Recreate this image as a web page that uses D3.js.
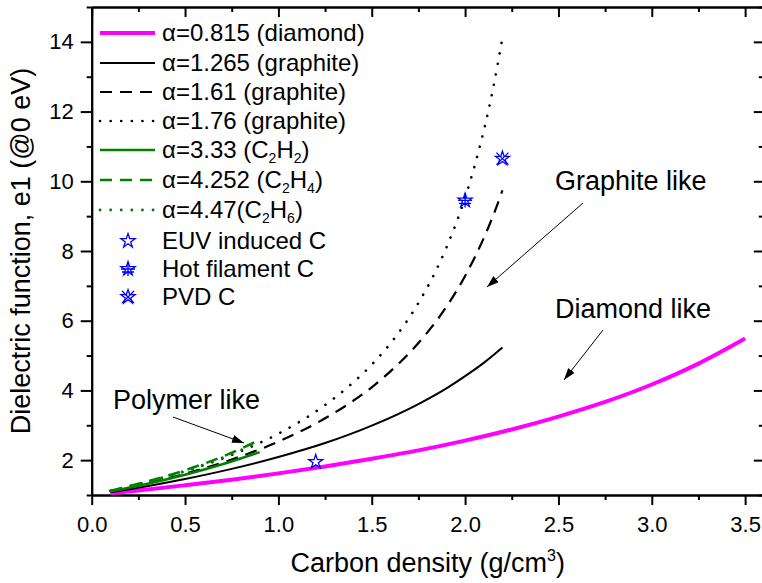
<!DOCTYPE html>
<html>
<head>
<meta charset="utf-8">
<script src="https://cdn.jsdelivr.net/npm/d3@7"></script>
<style>
  body { margin: 0; background: #fff; }
  svg { font-family: "Liberation Sans", Arial, sans-serif; }
</style>
</head>
<body>
<div id="chart"></div>
<script>
// values: carbon density (g/cm3) -> e1 at 0 eV
var diamondX = [0.1, 0.25, 0.5, 0.75, 1.0, 1.25, 1.5, 1.75, 2.0, 2.25, 2.5, 2.75, 3.0, 3.25, 3.5];
var diamondY = [1.05, 1.13, 1.28, 1.44, 1.62, 1.82, 2.04, 2.28, 2.56, 2.88, 3.25, 3.67, 4.17, 4.77, 5.49];

var graphite1X = [0.1, 0.25, 0.5, 0.75, 1.0, 1.25, 1.5, 1.75, 1.9, 2.0, 2.1, 2.2];
var graphite1Y = [1.08, 1.21, 1.46, 1.75, 2.09, 2.49, 2.99, 3.61, 4.06, 4.41, 4.79, 5.23];

var graphiteX = [0.1, 0.25, 0.5, 0.75, 1.0, 1.25, 1.375, 1.5, 1.625, 1.75, 1.9, 2.0, 2.05, 2.1, 2.15, 2.2];
var graphite2Y = [1.11, 1.28, 1.61, 2.02, 2.53, 3.20, 3.61, 4.09, 4.67, 5.36, 6.40, 7.28, 7.80, 8.37, 9.01, 9.74];
var graphite3Y = [1.12, 1.31, 1.68, 2.15, 2.76, 3.58, 4.11, 4.74, 5.52, 6.51, 8.10, 9.53, 10.42, 11.45, 12.66, 14.12];

var polymerX = [0.1, 0.3, 0.5, 0.7, 0.9];
var c2h2Y = [1.10, 1.32, 1.58, 1.88, 2.23];
var c2h4Y = [1.12, 1.39, 1.71, 2.10, 2.58];
var c2h6Y = [1.12, 1.38, 1.69, 2.07, 2.53];

var sampleNames = ["EUV induced C", "Hot filament C", "PVD C"];
var sampleX = [1.2, 2.0, 2.2];
var sampleY = [1.95, 9.45, 10.65];

var curveNames = ["α=0.815 (diamond)", "α=1.265 (graphite)", "α=1.61 (graphite)", "α=1.76 (graphite)",
                  "α=3.33 (C_2H_2)", "α=4.252 (C_2H_4)", "α=4.47(C_2H_6)"];

var xMajor = [0, 0.5, 1.0, 1.5, 2.0, 2.5, 3.0, 3.5];
var xMinor = [0.25, 0.75, 1.25, 1.75, 2.25, 2.75, 3.25];
var yMajor = [2, 4, 6, 8, 10, 12, 14];
var yMinor = [1, 3, 5, 7, 9, 11, 13, 15];

var w = 762, h = 583;

var svg = d3.select("#chart")
  .append("svg")
  .attr("width", w)
  .attr("height", h);

var x = d3.scaleLinear().domain([0, 3.6]).range([91.7, 763.8]);
var y = d3.scaleLinear().domain([1, 15]).range([495, 7]);

function styleAxis(g) {
  g.selectAll("path, line").attr("stroke", "#000").attr("stroke-width", 2);
  g.selectAll("text").attr("fill", "#000").attr("font-size", 22);
}

// bottom axis
svg.append("g")
  .attr("transform", "translate(0," + y(1) + ")")
  .call(d3.axisBottom(x).tickValues(xMajor).tickSize(10).tickSizeOuter(0).tickPadding(11).tickFormat(d3.format(".1f")))
  .call(styleAxis);
svg.append("g")
  .attr("transform", "translate(0," + y(1) + ")")
  .call(d3.axisBottom(x).tickValues(xMinor).tickSize(5).tickSizeOuter(0).tickFormat(""))
  .call(styleAxis);

// top axis, ticks inward
svg.append("g")
  .attr("transform", "translate(0," + y(15) + ")")
  .call(d3.axisTop(x).tickValues(xMajor).tickSize(-10).tickSizeOuter(0).tickFormat(""))
  .call(styleAxis);
svg.append("g")
  .attr("transform", "translate(0," + y(15) + ")")
  .call(d3.axisTop(x).tickValues(xMinor).tickSize(-5).tickSizeOuter(0).tickFormat(""))
  .call(styleAxis);

// left axis
svg.append("g")
  .attr("transform", "translate(" + x(0) + ",0)")
  .call(d3.axisLeft(y).tickValues(yMajor).tickSize(11).tickSizeOuter(0).tickPadding(7))
  .call(styleAxis);
svg.append("g")
  .attr("transform", "translate(" + x(0) + ",0)")
  .call(d3.axisLeft(y).tickValues(yMinor).tickSize(5).tickSizeOuter(0).tickFormat(""))
  .call(styleAxis);

// right axis, ticks inward
svg.append("g")
  .attr("transform", "translate(" + x(3.6) + ",0)")
  .call(d3.axisRight(y).tickValues(yMajor).tickSize(-10).tickSizeOuter(0).tickFormat(""))
  .call(styleAxis);
svg.append("g")
  .attr("transform", "translate(" + x(3.6) + ",0)")
  .call(d3.axisRight(y).tickValues(yMinor).tickSize(-5).tickSizeOuter(0).tickFormat(""))
  .call(styleAxis);

// axis titles
svg.append("text")
  .attr("x", (x(0) + x(3.6)) / 2)
  .attr("y", 572)
  .attr("text-anchor", "middle")
  .attr("font-size", 27)
  .text("Carbon density (g/cm")
  .append("tspan").attr("font-size", 16).attr("dy", -11).text("3")
  .select(function() { return this.parentNode; })
  .append("tspan").attr("dy", 11).text(")");

svg.append("text")
  .attr("transform", "translate(30," + (y(1) + y(15)) / 2 + ")rotate(-90)")
  .attr("text-anchor", "middle")
  .attr("font-size", 27)
  .text("Dielectric function, e1 (@0 eV)");

// curves
var line = d3.line()
  .x(function(d) { return x(d[0]); })
  .y(function(d) { return y(d[1]); })
  .curve(d3.curveMonotoneX);

var curves = [
  {xs: diamondX, ys: diamondY, color: "#ff00ff", width: 4, dash: null, cap: "butt"},
  {xs: graphite1X, ys: graphite1Y, color: "#000", width: 2, dash: null, cap: "butt"},
  {xs: graphiteX, ys: graphite2Y, color: "#000", width: 2.2, dash: "12,8", cap: "butt"},
  {xs: graphiteX, ys: graphite3Y, color: "#000", width: 2.6, dash: "0.1,10.5", cap: "round"},
  {xs: polymerX, ys: c2h2Y, color: "#008000", width: 2.6, dash: null, cap: "butt"},
  {xs: polymerX, ys: c2h4Y, color: "#008000", width: 2.6, dash: "12,8", cap: "butt"},
  {xs: polymerX, ys: c2h6Y, color: "#008000", width: 2.8, dash: "0.1,10.5", cap: "round"}
];

curves.forEach(function(c) {
  svg.append("path")
    .datum(c.xs.map(function(v, i) { return [v, c.ys[i]]; }))
    .attr("d", line)
    .attr("fill", "none")
    .attr("stroke", c.color)
    .attr("stroke-width", c.width)
    .attr("stroke-linecap", c.cap)
    .attr("stroke-dasharray", c.dash);
});

// sample markers
var star = d3.symbol().type(d3.symbolStar).size(62);
function drawMarker(g, k) {
  g.append("path").attr("d", star()).attr("fill", "none").attr("stroke", "#0000ff").attr("stroke-width", 1.3);
  if (k == 1) {
    g.append("path").attr("d", "M-7,0H7M0,-7V7M-6,3H6").attr("stroke", "#0000ff").attr("stroke-width", 1.3);
  }
  if (k == 2) {
    g.append("path").attr("d", "M-6,-6L6,6M-6,6L6,-6").attr("stroke", "#0000ff").attr("stroke-width", 1.3);
  }
}
sampleNames.forEach(function(n, i) {
  var g = svg.append("g").attr("transform", "translate(" + x(sampleX[i]) + "," + y(sampleY[i]) + ")");
  drawMarker(g, i);
});

// legend
function addLabel(t, str) {
  var parts = str.split(/_(\d)/);
  parts.forEach(function(p, i) {
    if (i % 2 == 1) {
      t.append("tspan").attr("font-size", 14).attr("dy", 5).text(p);
    } else if (p.length) {
      t.append("tspan").attr("dy", i > 0 ? -5 : 0).text(p);
    }
  });
}

var rowY = [33, 63, 92, 121, 150, 180, 210, 241, 269, 297];
var legend = svg.append("g");
curves.forEach(function(c, i) {
  legend.append("line")
    .attr("x1", 100).attr("x2", 155)
    .attr("y1", rowY[i]).attr("y2", rowY[i])
    .attr("stroke", c.color)
    .attr("stroke-width", c.width)
    .attr("stroke-linecap", c.cap)
    .attr("stroke-dasharray", c.dash);
  var t = legend.append("text")
    .attr("x", 162).attr("y", rowY[i] + 8)
    .attr("font-size", 24);
  addLabel(t, curveNames[i]);
});
sampleNames.forEach(function(n, i) {
  var ry = rowY[curveNames.length + i];
  var g = legend.append("g").attr("transform", "translate(128," + ry + ")");
  drawMarker(g, i);
  legend.append("text")
    .attr("x", 162).attr("y", ry + 8)
    .attr("font-size", 24)
    .text(n);
});

// annotations with arrows
svg.append("defs").append("marker")
  .attr("id", "head")
  .attr("viewBox", "0 0 12 8")
  .attr("refX", 12).attr("refY", 4)
  .attr("markerWidth", 12).attr("markerHeight", 8)
  .attr("markerUnits", "userSpaceOnUse")
  .attr("orient", "auto")
  .append("path").attr("d", "M0,0L12,4L0,8z").attr("fill", "#000");

var notes = [
  {text: "Graphite like", tx: 555, ty: 190, a: [583, 203, 487, 287]},
  {text: "Diamond like", tx: 555, ty: 318, a: [603, 330, 564, 380]},
  {text: "Polymer like", tx: 113, ty: 409, a: [173, 417, 244, 443]}
];
notes.forEach(function(n) {
  svg.append("text").attr("x", n.tx).attr("y", n.ty).attr("font-size", 27).text(n.text);
  svg.append("line")
    .attr("x1", n.a[0]).attr("y1", n.a[1]).attr("x2", n.a[2]).attr("y2", n.a[3])
    .attr("stroke", "#000").attr("stroke-width", 1)
    .attr("marker-end", "url(#head)");
});
</script>
</body>
</html>
